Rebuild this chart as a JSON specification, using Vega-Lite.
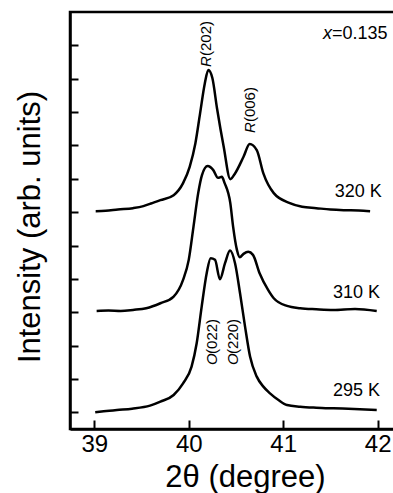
{
  "$schema": "https://vega.github.io/schema/vega-lite/v6.json",
  "width": 326,
  "height": 417,
  "autosize": "none",
  "padding": {"left": 70, "top": 12, "right": 0, "bottom": 64},
  "background": "white",
  "config": {
    "view": {"stroke": "black", "strokeWidth": 2.5},
    "font": "Liberation Sans"
  },
  "datasets": {
    "curves": [
      {"T": "320 K", "x": 39.015, "y": 6.03},
      {"T": "320 K", "x": 39.12, "y": 6.04},
      {"T": "320 K", "x": 39.25, "y": 6.08},
      {"T": "320 K", "x": 39.41, "y": 6.12},
      {"T": "320 K", "x": 39.52, "y": 6.18},
      {"T": "320 K", "x": 39.6, "y": 6.26},
      {"T": "320 K", "x": 39.7, "y": 6.36},
      {"T": "320 K", "x": 39.84, "y": 6.51},
      {"T": "320 K", "x": 39.94, "y": 6.87},
      {"T": "320 K", "x": 40.01, "y": 7.36},
      {"T": "320 K", "x": 40.07, "y": 8.06},
      {"T": "320 K", "x": 40.12, "y": 8.96},
      {"T": "320 K", "x": 40.17, "y": 9.86},
      {"T": "320 K", "x": 40.207, "y": 10.26},
      {"T": "320 K", "x": 40.25, "y": 10.02},
      {"T": "320 K", "x": 40.3, "y": 9.1},
      {"T": "320 K", "x": 40.37, "y": 7.96},
      {"T": "320 K", "x": 40.44, "y": 6.99},
      {"T": "320 K", "x": 40.49, "y": 7.16},
      {"T": "320 K", "x": 40.58, "y": 7.66},
      {"T": "320 K", "x": 40.645, "y": 8.04},
      {"T": "320 K", "x": 40.72, "y": 7.86},
      {"T": "320 K", "x": 40.79, "y": 7.16},
      {"T": "320 K", "x": 40.9, "y": 6.57},
      {"T": "320 K", "x": 41.07, "y": 6.27},
      {"T": "320 K", "x": 41.2, "y": 6.16},
      {"T": "320 K", "x": 41.35, "y": 6.12},
      {"T": "320 K", "x": 41.5, "y": 6.08},
      {"T": "320 K", "x": 41.64, "y": 6.06},
      {"T": "320 K", "x": 41.8, "y": 6.05},
      {"T": "320 K", "x": 41.92, "y": 6.03},
      {"T": "310 K", "x": 39.025, "y": 3.04},
      {"T": "310 K", "x": 39.15, "y": 3.05},
      {"T": "310 K", "x": 39.28, "y": 3.04},
      {"T": "310 K", "x": 39.41, "y": 3.07},
      {"T": "310 K", "x": 39.55, "y": 3.12},
      {"T": "310 K", "x": 39.7, "y": 3.27},
      {"T": "310 K", "x": 39.84, "y": 3.47},
      {"T": "310 K", "x": 39.94, "y": 3.97},
      {"T": "310 K", "x": 40.0, "y": 4.57},
      {"T": "310 K", "x": 40.05, "y": 5.56},
      {"T": "310 K", "x": 40.1, "y": 6.57},
      {"T": "310 K", "x": 40.14, "y": 7.11},
      {"T": "310 K", "x": 40.2, "y": 7.38},
      {"T": "310 K", "x": 40.26, "y": 7.26},
      {"T": "310 K", "x": 40.31, "y": 7.03},
      {"T": "310 K", "x": 40.35, "y": 7.06},
      {"T": "310 K", "x": 40.38, "y": 6.87},
      {"T": "310 K", "x": 40.44, "y": 6.27},
      {"T": "310 K", "x": 40.47, "y": 5.56},
      {"T": "310 K", "x": 40.51, "y": 4.87},
      {"T": "310 K", "x": 40.54, "y": 4.65},
      {"T": "310 K", "x": 40.58, "y": 4.75},
      {"T": "310 K", "x": 40.63, "y": 4.81},
      {"T": "310 K", "x": 40.68, "y": 4.72},
      {"T": "310 K", "x": 40.75, "y": 4.17},
      {"T": "310 K", "x": 40.84, "y": 3.67},
      {"T": "310 K", "x": 40.9, "y": 3.42},
      {"T": "310 K", "x": 41.04, "y": 3.19},
      {"T": "310 K", "x": 41.18, "y": 3.12},
      {"T": "310 K", "x": 41.35, "y": 3.09},
      {"T": "310 K", "x": 41.53, "y": 3.07},
      {"T": "310 K", "x": 41.76, "y": 3.1},
      {"T": "310 K", "x": 41.99, "y": 3.04},
      {"T": "295 K", "x": 39.01, "y": 0.0},
      {"T": "295 K", "x": 39.1, "y": 0.03},
      {"T": "295 K", "x": 39.24, "y": 0.07},
      {"T": "295 K", "x": 39.4, "y": 0.11},
      {"T": "295 K", "x": 39.59, "y": 0.2},
      {"T": "295 K", "x": 39.7, "y": 0.32},
      {"T": "295 K", "x": 39.84, "y": 0.52},
      {"T": "295 K", "x": 39.94, "y": 0.87},
      {"T": "295 K", "x": 40.03, "y": 1.37},
      {"T": "295 K", "x": 40.084, "y": 2.07},
      {"T": "295 K", "x": 40.137, "y": 3.17},
      {"T": "295 K", "x": 40.19, "y": 4.17},
      {"T": "295 K", "x": 40.232, "y": 4.62},
      {"T": "295 K", "x": 40.278, "y": 4.57},
      {"T": "295 K", "x": 40.33, "y": 3.99},
      {"T": "295 K", "x": 40.384, "y": 4.47},
      {"T": "295 K", "x": 40.437, "y": 4.85},
      {"T": "295 K", "x": 40.49, "y": 4.47},
      {"T": "295 K", "x": 40.543, "y": 3.57},
      {"T": "295 K", "x": 40.596, "y": 2.57},
      {"T": "295 K", "x": 40.649, "y": 1.67},
      {"T": "295 K", "x": 40.72, "y": 1.07},
      {"T": "295 K", "x": 40.79, "y": 0.77},
      {"T": "295 K", "x": 40.86, "y": 0.57},
      {"T": "295 K", "x": 40.95, "y": 0.37},
      {"T": "295 K", "x": 41.04, "y": 0.22},
      {"T": "295 K", "x": 41.18, "y": 0.17},
      {"T": "295 K", "x": 41.35, "y": 0.14},
      {"T": "295 K", "x": 41.53, "y": 0.12},
      {"T": "295 K", "x": 41.75, "y": 0.1},
      {"T": "295 K", "x": 41.99, "y": 0.07}
    ],
    "minor": [
      {"x": 39.5},
      {"x": 40.5},
      {"x": 41.5}
    ],
    "temps": [
      {"text": "320 K", "x": 42.043, "y": 6.46},
      {"text": "310 K", "x": 42.025, "y": 3.42},
      {"text": "295 K", "x": 42.025, "y": 0.49}
    ],
    "peaks": [
      {"lead": "R", "rest": "(202)", "x": 40.183, "y": 10.35},
      {"lead": "R", "rest": "(006)", "x": 40.648, "y": 8.37},
      {"lead": "O", "rest": "(022)", "x": 40.243, "y": 1.42},
      {"lead": "O", "rest": "(220)", "x": 40.472, "y": 1.42}
    ],
    "comp": [
      {"lead": "x", "rest": "=0.135", "x": 41.421, "y": 11.19}
    ]
  },
  "encoding": {
    "x": {
      "field": "x", "type": "quantitative",
      "scale": {"domain": [38.743, 42.194], "nice": false, "zero": false},
      "axis": {
        "values": [39, 40, 41, 42],
        "format": "d",
        "tickSize": -9,
        "tickWidth": 2, "tickColor": "black",
        "domainColor": "black", "domainWidth": 2.5,
        "grid": false,
        "labelFontSize": 24, "labelColor": "black", "labelPadding": 12,
        "labelFlush": false,
        "title": "2θ (degree)",
        "titleFontSize": 31, "titleFontWeight": "normal", "titleColor": "black",
        "titleX": 175, "titleY": 57, "titleBaseline": "alphabetic", "titleAlign": "center"
      }
    },
    "y": {
      "field": "y", "type": "quantitative",
      "scale": {"domain": [-0.5, 12], "nice": false, "zero": false},
      "axis": {
        "values": [0, 1, 2, 3, 4, 5, 6, 7, 8, 9, 10, 11],
        "labels": false,
        "tickSize": -8, "tickWidth": 2, "tickColor": "black",
        "domainColor": "black", "domainWidth": 2.5,
        "grid": false,
        "title": "Intensity (arb. units)",
        "titleFontSize": 31, "titleFontWeight": "normal", "titleColor": "black",
        "titleAngle": 270, "titleX": -31, "titleY": 214.5,
        "titleBaseline": "alphabetic", "titleAlign": "center"
      }
    }
  },
  "layer": [
    {
      "data": {"name": "curves"},
      "mark": {"type": "line", "color": "black", "strokeWidth": 2.5, "interpolate": "monotone"},
      "encoding": {
        "detail": {"field": "T", "type": "nominal"}
      }
    },
    {
      "data": {"name": "minor"},
      "mark": {"type": "rule", "color": "black", "strokeWidth": 2},
      "encoding": {
        "y": {"datum": -0.5, "type": "quantitative"},
        "y2": {"datum": -0.35}
      }
    },
    {
      "data": {"name": "temps"},
      "mark": {"type": "text", "align": "right", "baseline": "alphabetic", "fontSize": 18, "color": "black"},
      "encoding": {
        "text": {"field": "text"}
      }
    },
    {
      "data": {"name": "peaks"},
      "mark": {"type": "text", "align": "left", "baseline": "middle", "angle": 270, "fontSize": 15, "fontStyle": "italic", "color": "black"},
      "encoding": {
        "text": {"field": "lead"}
      }
    },
    {
      "data": {"name": "peaks"},
      "mark": {"type": "text", "align": "left", "baseline": "middle", "angle": 270, "fontSize": 15, "dx": 11, "color": "black"},
      "encoding": {
        "text": {"field": "rest"}
      }
    },
    {
      "data": {"name": "comp"},
      "mark": {"type": "text", "align": "left", "baseline": "alphabetic", "fontSize": 18, "fontStyle": "italic", "color": "black"},
      "encoding": {
        "text": {"field": "lead"}
      }
    },
    {
      "data": {"name": "comp"},
      "mark": {"type": "text", "align": "left", "baseline": "alphabetic", "fontSize": 18, "dx": 9, "color": "black"},
      "encoding": {
        "text": {"field": "rest"}
      }
    }
  ]
}
